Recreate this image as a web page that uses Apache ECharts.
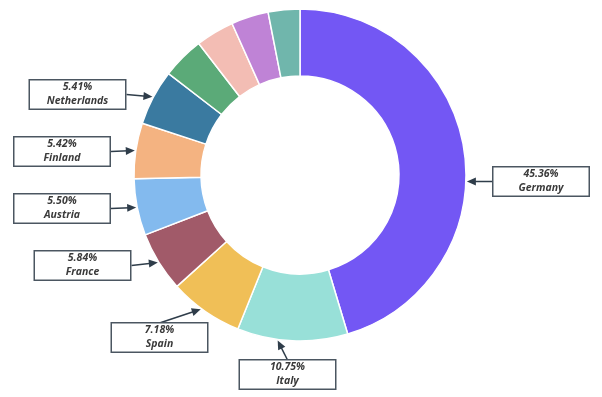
<!DOCTYPE html>
<html>
<head>
<meta charset="utf-8">
<script src="https://cdn.jsdelivr.net/npm/echarts@6/dist/echarts.min.js"></script>
<style>
  html, body { margin: 0; padding: 0; background: #fff; }
  #chart { width: 602px; height: 397px; }
</style>
</head>
<body>
<div id="chart"></div>
<script>
// shares in %, clockwise from 12 o'clock
const countries = ["Germany", "Italy", "Spain", "France", "Austria", "Finland", "Netherlands",
                   "Belgium", "Portugal", "Greece", "Ireland"];
const shares = [45.36, 10.75, 7.18, 5.84, 5.50, 5.42, 5.41, 4.10, 3.73, 3.63, 3.08];
const colors = ["#7357f4", "#98e0d8", "#f0bf57", "#a15a69", "#83baee", "#f4b381",
                "#3a7aa0", "#5baa78", "#f3bdb4", "#bf83d6", "#70b6ac"];

// callout boxes for the first 7 slices (box centre, where on the slice the arrow points)
const boxCentres = [[541, 181.5], [287.5, 374.5], [159.5, 337.5], [82.5, 265.5],
                    [62, 208.5], [62, 151.5], [77.5, 94.5]];
const anchorAt = [0.565, 0.63, 0.56, 0.5, 0.5, 0.5, 0.5];

const CX = 300, CY = 175, R_IN = 99, R_OUT = 166;
const BOX_W = 98, BOX_H = 29;
const INK = "#2f3d4a";

const total = shares.reduce((a, b) => a + b, 0);

// arrow geometry for each callout, derived from the slice angles
const callouts = boxCentres.map(function (box, i) {
  let start = 0;
  for (let k = 0; k < i; k++) start += shares[k];
  const deg = (start + shares[i] * anchorAt[i]) / total * 360;
  const a = deg * Math.PI / 180;
  const tip = [CX + (R_OUT + 1) * Math.sin(a), CY - (R_OUT + 1) * Math.cos(a)];
  const dx = tip[0] - box[0], dy = tip[1] - box[1];
  let tail;
  if (Math.abs(dx) / (BOX_W / 2) > Math.abs(dy) / (BOX_H / 2)) {
    tail = [box[0] + Math.sign(dx) * BOX_W / 2, box[1]];
  } else {
    tail = [box[0], box[1] + Math.sign(dy) * BOX_H / 2];
  }
  const len = Math.hypot(tip[0] - tail[0], tip[1] - tail[1]);
  const u = [(tip[0] - tail[0]) / len, (tip[1] - tail[1]) / len];
  const n = [-u[1], u[0]];
  const L = 9, W = 8;
  const back = [tip[0] - L * u[0], tip[1] - L * u[1]];
  const head = [
    tip,
    [back[0] + n[0] * W / 2, back[1] + n[1] * W / 2],
    [back[0] - n[0] * W / 2, back[1] - n[1] * W / 2]
  ];
  const base = [tip[0] - L * 0.7 * u[0], tip[1] - L * 0.7 * u[1]];
  return { box: box, tail: tail, base: base, head: head };
});

const textStyle = {
  fontFamily: "Open Sans",
  fontStyle: "italic",
  fontWeight: "bold",
  fontSize: 10.5,
  lineHeight: 14,
  color: "#3a3a3a"
};

const chart = echarts.init(document.getElementById("chart"), null, { renderer: "canvas" });

chart.setOption({
  backgroundColor: "#fff",
  animation: false,
  graphic: callouts.map(function (c) {
    return {
      type: "polygon",
      shape: { points: c.head },
      style: { fill: INK },
      z: 100
    };
  }),
  series: [
    {
      type: "pie",
      center: [CX, CY],
      radius: [R_IN, R_OUT],
      startAngle: 90,
      clockwise: true,
      avoidLabelOverlap: false,
      itemStyle: { borderColor: "#fff", borderWidth: 1.5 },
      label: {
        show: true,
        position: "outside",
        formatter: function (p) {
          return "{p|" + p.value.toFixed(2) + "%}\n{n|" + p.name + "}";
        },
        backgroundColor: "#fff",
        borderColor: "#4b5661",
        borderWidth: 1.5,
        width: BOX_W - 3,
        padding: [0, 0],
        align: "center",
        rich: { p: textStyle, n: textStyle }
      },
      labelLine: {
        show: true,
        lineStyle: { color: INK, width: 1.5 }
      },
      labelLayout: function (params) {
        const c = callouts[params.dataIndex];
        if (!c) return {};
        return {
          x: c.box[0],
          y: c.box[1],
          align: "center",
          verticalAlign: "middle",
          labelLinePoints: [c.tail, c.base]
        };
      },
      emphasis: { disabled: true },
      data: countries.map(function (name, i) {
        const item = { name: name, value: shares[i], itemStyle: { color: colors[i] } };
        if (i >= boxCentres.length) {
          item.label = { show: false };
          item.labelLine = { show: false };
        }
        return item;
      })
    }
  ]
});
</script>
</body>
</html>
